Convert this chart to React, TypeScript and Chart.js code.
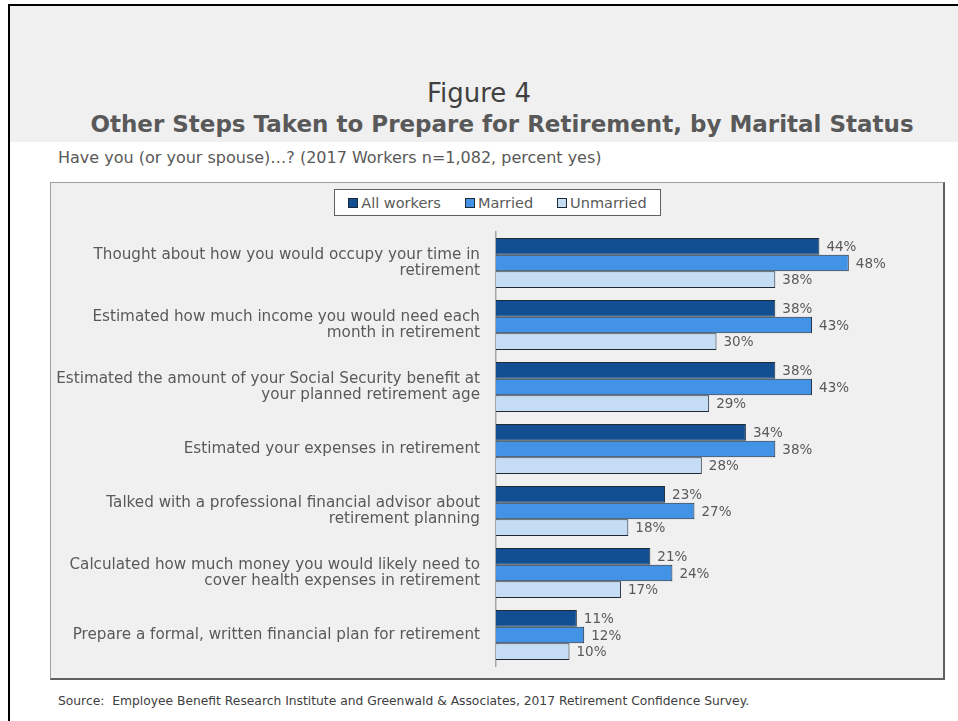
import React, { useEffect, useRef } from "react";
import Chart from "chart.js/auto";

const categories: (string | string[])[] = [
  ["Thought about how you would occupy your time in", "retirement"],
  ["Estimated how much income you would need each", "month in retirement"],
  ["Estimated the amount of your Social Security benefit at", "your planned retirement age"],
  "Estimated your expenses in retirement",
  ["Talked with a professional financial advisor about", "retirement planning"],
  ["Calculated how much money you would likely need to", "cover health expenses in retirement"],
  "Prepare a formal, written financial plan for retirement",
];
const allWorkers = [44, 38, 38, 34, 23, 21, 11];
const married = [48, 43, 43, 38, 27, 24, 12];
const unmarried = [38, 30, 29, 28, 18, 17, 10];
const seriesNames = ["All workers", "Married", "Unmarried"];
const seriesColors = ["#114E92", "#4292E6", "#C5DCF5"];

const FONT = "'DejaVu Sans', sans-serif";
const TEXT = "#595959";

const labelPlugin = {
  id: "barLabels",
  afterDatasetsDraw(chart: any) {
    const ctx = chart.ctx;
    ctx.save();
    ctx.font = `13.5px ${FONT}`;
    ctx.fillStyle = TEXT;
    ctx.textAlign = "left";
    ctx.textBaseline = "middle";
    chart.data.datasets.forEach((ds: any, i: number) => {
      const meta = chart.getDatasetMeta(i);
      meta.data.forEach((bar: any, j: number) => {
        ctx.fillText(ds.data[j] + "%", bar.x + 7, bar.y + 1);
      });
    });
    ctx.restore();
  },
};

export default function App() {
  const ref = useRef<HTMLCanvasElement>(null);
  useEffect(() => {
    if (!ref.current) return;
    const chart = new Chart(ref.current, {
      type: "bar",
      data: {
        labels: categories,
        datasets: [allWorkers, married, unmarried].map((d, i) => ({
          label: seriesNames[i],
          data: d,
          backgroundColor: seriesColors[i],
          borderColor: "#1f2a36",
          borderWidth: 1,
          barPercentage: 1,
          categoryPercentage: 0.806,
        })),
      },
      options: {
        indexAxis: "y",
        animation: false,
        responsive: false,
        maintainAspectRatio: false,
        layout: { padding: { top: 49, bottom: 12, right: 6, left: 0 } },
        plugins: { legend: { display: false }, tooltip: { enabled: false } },
        scales: {
          x: { display: false, min: 0, max: 60 },
          y: {
            afterFit: (s: any) => {
              s.width = 445;
              s.paddingTop = 0;
              s.paddingBottom = 0;
            },
            grid: { display: false, drawTicks: false },
            border: { display: true, color: "#a6a6a6", width: 1.5 },
            ticks: {
              color: TEXT,
              padding: 16,
              font: { family: "DejaVu Sans", size: 15.2, lineHeight: 1.05 },
            },
          },
        },
      },
      plugins: [labelPlugin],
    });
    return () => chart.destroy();
  }, []);

  const legendItem = (name: string, color: string, last: boolean) => (
    <span key={name} style={{ display: "inline-flex", alignItems: "center", marginRight: last ? 0 : 24 }}>
      <span
        style={{
          display: "inline-block",
          width: 8,
          height: 8,
          background: color,
          border: "1px solid #1f2a36",
          marginRight: 3,
        }}
      />
      {name}
    </span>
  );

  return (
    <div
      style={{
        position: "fixed",
        left: 0,
        top: 0,
        width: 958,
        height: 721,
        background: "#ffffff",
        overflow: "hidden",
        fontFamily: FONT,
      }}
    >
      <div
        style={{
          position: "absolute",
          left: 8,
          top: 4,
          width: 950,
          height: 717,
          borderTop: "2px solid #000",
          borderLeft: "2px solid #000",
        }}
      />
      <div
        style={{
          position: "absolute",
          left: 10,
          top: 6,
          width: 948,
          height: 136,
          background: "#f0f0f0",
        }}
      />
      <div
        style={{
          position: "absolute",
          left: 10,
          width: 938,
          top: 78,
          textAlign: "center",
          fontSize: 26,
          color: "#404040",
          lineHeight: "30px",
        }}
      >
        Figure 4
      </div>
      <div
        style={{
          position: "absolute",
          left: 28,
          width: 948,
          top: 109,
          textAlign: "center",
          fontSize: 23,
          fontWeight: "bold",
          color: "#595959",
          lineHeight: "30px",
          whiteSpace: "nowrap",
        }}
      >
        Other Steps Taken to Prepare for Retirement, by Marital Status
      </div>
      <div
        style={{
          position: "absolute",
          left: 58,
          top: 148,
          fontSize: 16,
          color: TEXT,
          lineHeight: "20px",
          whiteSpace: "nowrap",
        }}
      >
        Have you (or your spouse)…? (2017 Workers n=1,082, percent yes)
      </div>
      <div
        style={{
          position: "absolute",
          left: 50,
          top: 182,
          width: 892,
          height: 495,
          background: "#f0f0f0",
          borderTop: "1px solid #a0a0a0",
          borderLeft: "1px solid #a0a0a0",
          borderRight: "2px solid #606060",
          borderBottom: "2px solid #606060",
        }}
      >
        <canvas ref={ref} width={892} height={495} style={{ display: "block" }} />
        <div
          style={{
            position: "absolute",
            left: 283,
            top: 6,
            width: 327,
            height: 27,
            boxSizing: "border-box",
            background: "#ffffff",
            border: "1px solid #606060",
            display: "flex",
            alignItems: "center",
            justifyContent: "center",
            fontSize: 14.5,
            color: TEXT,
            whiteSpace: "nowrap",
          }}
        >
          {seriesNames.map((n, i) => legendItem(n, seriesColors[i], i === 2))}
        </div>
      </div>
      <div
        style={{
          position: "absolute",
          left: 58,
          top: 693,
          fontSize: 12.3,
          color: "#404040",
          whiteSpace: "nowrap",
          lineHeight: "16px",
        }}
      >
        Source:&nbsp; Employee Benefit Research Institute and Greenwald &amp; Associates, 2017 Retirement Confidence Survey.
      </div>
    </div>
  );
}
